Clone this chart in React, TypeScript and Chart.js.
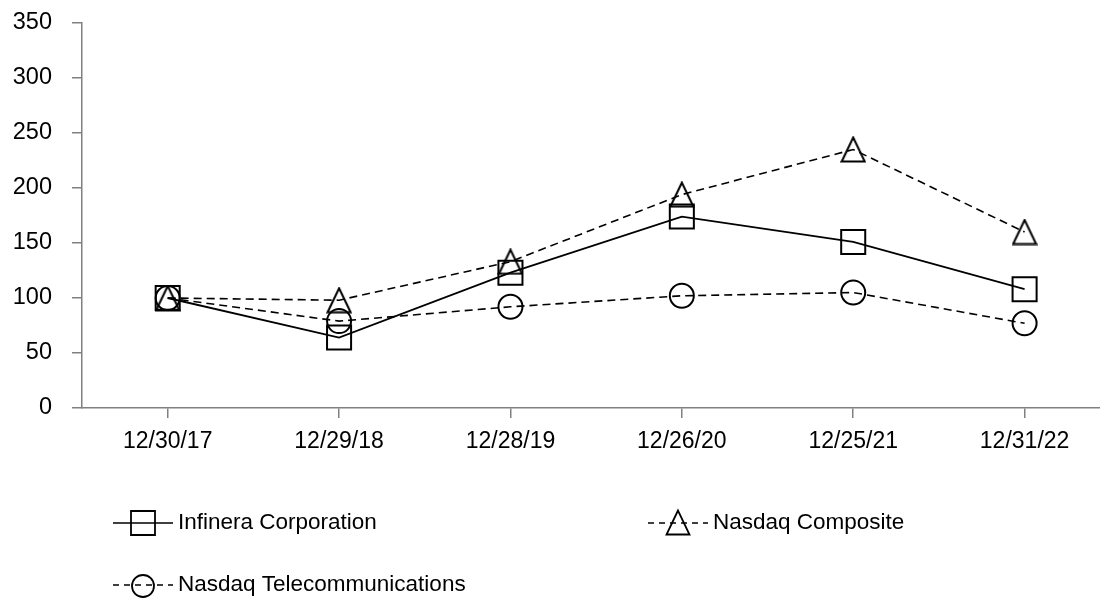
import React, { useEffect, useRef } from "react";
import { Chart, registerables } from "chart.js";

Chart.register(...registerables);

const categories = ["12/30/17", "12/29/18", "12/28/19", "12/26/20", "12/25/21", "12/31/22"];
const infinera = [100, 64, 123, 174, 151, 108];
const composite = [100, 98, 133, 194, 235, 160];
const telecom = [100, 79, 92, 102, 105, 77];
const seriesNames = ["Infinera Corporation", "Nasdaq Composite", "Nasdaq Telecommunications"];
const yMin = 0;
const yMax = 350;
const yStep = 50;

const FONT = '"Liberation Sans", Arial, sans-serif';
const AXIS_COLOR = "#808080";

function makeTriangle(): HTMLCanvasElement {
  const c = document.createElement("canvas");
  c.width = 26;
  c.height = 27;
  const g = c.getContext("2d")!;
  g.strokeStyle = "#000";
  g.lineWidth = 2;
  g.beginPath();
  g.moveTo(13, 1.5);
  g.lineTo(1.5, 25.5);
  g.lineTo(24.5, 25.5);
  g.closePath();
  g.stroke();
  return c;
}

function drawMarker(ctx: CanvasRenderingContext2D, shape: string, x: number, y: number) {
  ctx.save();
  ctx.strokeStyle = "#000";
  ctx.lineWidth = 1.8;
  ctx.setLineDash([]);
  ctx.beginPath();
  if (shape === "rect") {
    ctx.rect(x - 12, y - 12, 24, 24);
  } else if (shape === "triangle") {
    ctx.moveTo(x, y - 12.5);
    ctx.lineTo(x - 11.5, y + 11.5);
    ctx.lineTo(x + 11.5, y + 11.5);
    ctx.closePath();
  } else {
    ctx.arc(x, y, 11, 0, Math.PI * 2);
  }
  ctx.stroke();
  ctx.restore();
}

const legendPlugin = {
  id: "customLegend",
  afterDraw(chart: any) {
    const ctx: CanvasRenderingContext2D = chart.ctx;
    const W = 60;
    const items = [
      { name: seriesNames[0], shape: "rect", dash: [] as number[], x: 113, y: 523, my: 523 },
      { name: seriesNames[1], shape: "triangle", dash: [6, 5], x: 648, y: 523, my: 523 },
      { name: seriesNames[2], shape: "circle", dash: [6, 5], x: 113, y: 585, my: 586 },
    ];
    items.forEach((it) => {
      ctx.save();
      ctx.strokeStyle = "#000";
      ctx.lineWidth = 1.5;
      ctx.setLineDash(it.dash);
      ctx.beginPath();
      ctx.moveTo(it.x, it.y);
      ctx.lineTo(it.x + W, it.y);
      ctx.stroke();
      ctx.restore();
      drawMarker(ctx, it.shape, it.x + W / 2, it.my);
      ctx.save();
      ctx.fillStyle = "#000";
      ctx.font = `22.5px ${FONT}`;
      ctx.textBaseline = "middle";
      ctx.textAlign = "left";
      ctx.fillText(it.name, it.x + W + 5, it.y);
      ctx.restore();
    });
  },
};

export default function App() {
  const ref = useRef<HTMLCanvasElement | null>(null);

  useEffect(() => {
    if (!ref.current) return;
    const tri = makeTriangle();
    const toXY = (arr: number[]) => arr.map((v, i) => ({ x: i, y: v }));
    const chart = new Chart(ref.current, {
      type: "line",
      data: {
        datasets: [
          {
            label: seriesNames[0],
            data: toXY(infinera),
            borderColor: "#000",
            borderWidth: 1.8,
            pointStyle: "rect",
            pointRadius: 17,
            pointBorderWidth: 2,
            pointBorderColor: "#000",
            pointBackgroundColor: "rgba(0,0,0,0)",
            tension: 0,
            fill: false,
          },
          {
            label: seriesNames[1],
            data: toXY(composite),
            borderColor: "#000",
            borderWidth: 1.6,
            borderDash: [8, 5],
            pointStyle: tri as any,
            pointRadius: 13,
            pointBackgroundColor: "rgba(0,0,0,0)",
            tension: 0,
            fill: false,
          },
          {
            label: seriesNames[2],
            data: toXY(telecom),
            borderColor: "#000",
            borderWidth: 1.6,
            borderDash: [8, 5],
            pointStyle: "circle",
            pointRadius: 12,
            pointBorderWidth: 2,
            pointBorderColor: "#000",
            pointBackgroundColor: "rgba(0,0,0,0)",
            tension: 0,
            fill: false,
          },
        ],
      },
      options: {
        animation: false,
        responsive: false,
        maintainAspectRatio: false,
        devicePixelRatio: 1,
        layout: { autoPadding: false, padding: { top: 23, right: 0, left: 0, bottom: 144 } },
        plugins: {
          legend: { display: false },
          tooltip: { enabled: false },
        },
        scales: {
          x: {
            type: "linear",
            min: -0.5,
            max: 5.44,
            afterBuildTicks: (scale: any) => {
              scale.ticks = categories.map((_, i) => ({ value: i }));
            },
            afterFit: (scale: any) => {
              scale.height = 50;
              scale.paddingLeft = 0;
              scale.paddingRight = 0;
            },
            ticks: {
              autoSkip: false,
              maxRotation: 0,
              color: "#000",
              padding: 10,
              font: { family: FONT, size: 23 },
              callback: (v: any) => categories[Math.round(Number(v))] ?? "",
            },
            grid: {
              drawOnChartArea: false,
              drawTicks: true,
              tickLength: 10,
              color: AXIS_COLOR,
              lineWidth: 1.5,
            },
            border: { display: true, color: AXIS_COLOR, width: 1.5 },
          },
          y: {
            type: "linear",
            min: yMin,
            max: yMax,
            afterFit: (scale: any) => {
              scale.width = 82;
              scale.paddingTop = 0;
              scale.paddingBottom = 0;
            },
            ticks: {
              stepSize: yStep,
              color: "#000",
              padding: 20,
              font: { family: FONT, size: 23.5 },
            },
            grid: {
              drawOnChartArea: false,
              drawTicks: true,
              tickLength: 10,
              color: AXIS_COLOR,
              lineWidth: 1.5,
            },
            border: { display: true, color: AXIS_COLOR, width: 1.5 },
          },
        },
      },
      plugins: [legendPlugin],
    });
    return () => chart.destroy();
  }, []);

  return (
    <div style={{ position: "fixed", left: 0, top: 0, width: 1100, height: 602, background: "#fff" }}>
      <canvas ref={ref} width={1100} height={602} style={{ display: "block", width: 1100, height: 602 }} />
    </div>
  );
}
